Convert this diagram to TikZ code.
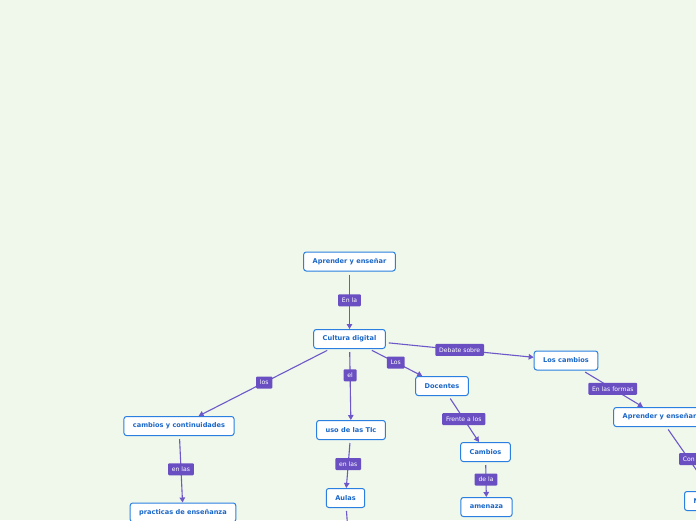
\documentclass[tikz,border=0pt]{standalone}
\usepackage{fontspec}
\setmainfont{DejaVu Sans}
\usetikzlibrary{positioning,arrows.meta}
\definecolor{bgmint}{HTML}{EFF8EB}
\definecolor{boxblue}{HTML}{2A7FE0}
\definecolor{txtblue}{HTML}{1A66C8}
\definecolor{lblpurple}{HTML}{6A4FC2}
\definecolor{linepurple}{HTML}{6E58C9}

\begin{document}
\begin{tikzpicture}[x=1pt,y=-1pt,
    topic/.style={draw=boxblue,fill=white,line width=1pt,rounded corners=2.5pt,minimum height=19pt,inner xsep=9pt,inner ysep=0pt,text=txtblue,font=\fontsize{6.6}{7}\selectfont\bfseries},
    lbl/.style={fill=lblpurple,text=white,rounded corners=1pt,minimum height=12pt,inner xsep=3.8pt,inner ysep=0pt,font=\fontsize{6.1}{6.5}\selectfont},
    link/.style={draw=linepurple,line width=1.1pt,shorten <=3pt,-{Triangle[length=5pt,width=5.5pt]}}]
      \fill[bgmint] (0,0) rectangle (696,520);
      \clip (0,0) rectangle (696,520);
      % concept boxes
      \node[topic] (aprender) at (349.5,261.5) {Aprender y enseñar};
      \node[topic] (cultura) at (349.5,339) {Cultura digital};
      \node[topic] (cambcont) at (179,426) {cambios y continuidades};
      \node[topic] (practicas) at (183,512.5) {practicas de enseñanza};
      \node[topic] (usotic) at (351,430) {uso de las TIc};
      \node[topic] (aulas) at (345.5,498) {Aulas};
      \node[topic] (docentes) at (442,386) {Docentes};
      \node[topic] (cambios) at (485.5,452) {Cambios};
      \node[topic] (amenaza) at (486.5,507) {amenaza};
      \node[topic] (loscambios) at (566,360.5) {Los cambios};
      \node[topic] (aprender2) at (659.5,417) {Aprender y enseñar};
      \node[topic,text width=49pt,align=left] (nodoN) at (718,501) {N};
      \coordinate (aulasdown) at (349,545);
      % links with their labels
      \draw[link] (aprender) -- node[lbl] (enla) {En la} (cultura);
      \draw[link] (cultura) -- node[lbl] (los1) {los} (cambcont);
      \draw[link] (cultura) -- node[lbl,pos=0.37] (el) {el} (usotic);
      \draw[link] (cultura) -- node[lbl] (los2) {Los} (docentes);
      \draw[link] (cultura) -- node[lbl] (debate) {Debate sobre} (loscambios);
      \draw[link] (cambcont) -- node[lbl] (enlas1) {en las} (practicas);
      \draw[link] (usotic) -- node[lbl] (enlas2) {en las} (aulas);
      \draw[link] (docentes) -- node[lbl] (frente) {Frente a los} (cambios);
      \draw[link] (cambios) -- node[lbl] (dela) {de la} (amenaza);
      \draw[link] (loscambios) -- node[lbl] (formas) {En las formas} (aprender2);
      \draw[link] (aprender2) -- node[lbl] (con) {Con} (nodoN);
      \draw[link] (aulas) -- (aulasdown);
    \end{tikzpicture}
\end{document}
